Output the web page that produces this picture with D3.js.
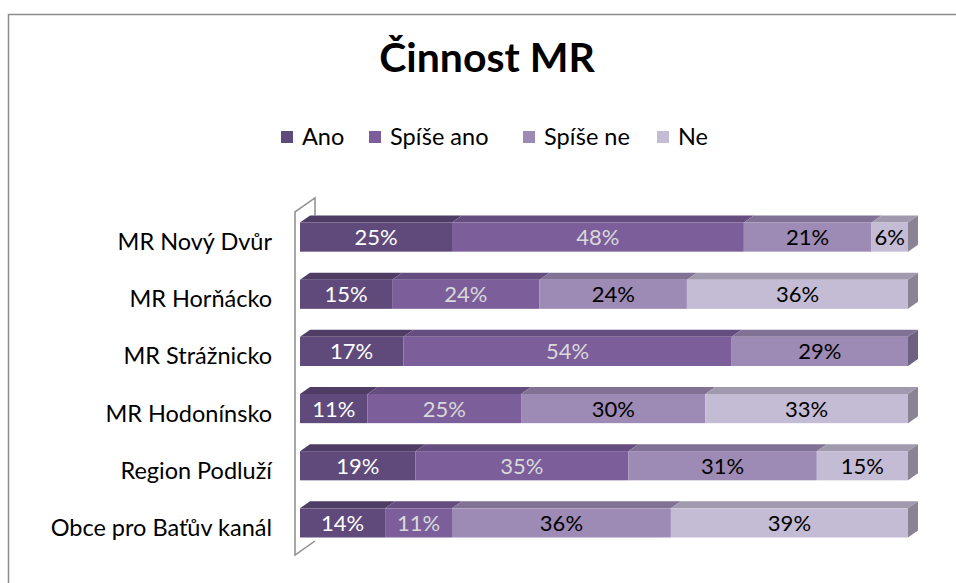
<!DOCTYPE html>
<html>
<head>
<meta charset="utf-8">
<script src="https://cdn.jsdelivr.net/npm/d3@7"></script>
<style>
  body { margin: 0; background: #fff; }
  svg { display: block; }
  text { font-family: Lato, "Open Sans", sans-serif; }
</style>
</head>
<body>
<svg id="chart" width="956" height="583"></svg>
<script>
// data
var categories = ["MR Nový Dvůr", "MR Horňácko", "MR Strážnicko", "MR Hodonínsko", "Region Podluží", "Obce pro Baťův kanál"];
var seriesNames = ["Ano", "Spíše ano", "Spíše ne", "Ne"];
var ano = [25, 15, 17, 11, 19, 14];
var spiseAno = [48, 24, 54, 25, 35, 11];
var spiseNe = [21, 24, 29, 30, 31, 36];
var ne = [6, 36, 0, 33, 15, 39];
var seriesColors = ["#604a7b", "#7b5e9a", "#9d8ab5", "#c4bbd4"];
var labelColors = ["#ffffff", "#d9d9d9", "#000000", "#000000"];
var legendX = [281, 369, 523, 657];

var rows = categories.map(function (c, i) {
    return { cat: c, "Ano": ano[i], "Spíše ano": spiseAno[i], "Spíše ne": spiseNe[i], "Ne": ne[i] };
});

var stacked = d3.stack().keys(seriesNames).offset(d3.stackOffsetExpand)(rows);

const svg = d3.select('#chart');

// frame
svg.append('rect')
    .attr('x', 8.5).attr('y', 14.5)
    .attr('width', 1000).attr('height', 1000)
    .attr('fill', 'none')
    .attr('stroke', '#8c8c8c')
    .attr('stroke-width', 1.5);

// title
svg.append('text')
    .attr('x', 487).attr('y', 72)
    .attr('text-anchor', 'middle')
    .style('font-size', '41px')
    .style('font-weight', 'bold')
    .text('Činnost MR');

// legend
var legend = svg.append('g');
seriesNames.forEach(function (name, i) {
    legend.append('rect')
        .attr('x', legendX[i]).attr('y', 131)
        .attr('width', 12).attr('height', 12)
        .attr('fill', seriesColors[i]);
    legend.append('text')
        .attr('x', legendX[i] + 21).attr('y', 145)
        .style('font-size', '23.5px')
        .text(name);
});

// scales (front plane of the 3D box)
var x = d3.scaleLinear().domain([0, 1]).range([295, 903]);
var y = d3.scaleBand().domain(categories).range([212, 555]).paddingInner(0.49).paddingOuter(0.245);

// depth of the box and of the bars inside it
var depthX = 20, depthY = -14;
var fx = depthX * 0.25, fy = depthY * 0.25;   // bar front face offset
var bx = depthX * 0.75, by = depthY * 0.75;   // bar back face offset

// left wall outline
var firstTop = y(categories[0]) + by;
svg.append('path')
    .attr('d', 'M' + (x(0) + depthX) + ',' + firstTop +
        'L' + (x(0) + depthX) + ',' + (212 + depthY) +
        'L' + x(0) + ',212' +
        'L' + x(0) + ',555' +
        'L' + (x(0) + depthX) + ',' + (555 + depthY))
    .attr('fill', 'none')
    .attr('stroke', '#8c8c8c')
    .attr('stroke-width', 1.5);

var g = svg.append('g');

rows.forEach(function (row, r) {
    var y0 = y(row.cat) + fy;
    var h = y.bandwidth();
    var dx = bx - fx, dy = by - fy;
    var lastIdx = -1;
    stacked.forEach(function (s, k) {
        if (s[r][1] - s[r][0] > 0) lastIdx = k;
    });
    stacked.forEach(function (s, k) {
        var a = x(s[r][0]) + fx, b = x(s[r][1]) + fx;
        if (b - a <= 0) return;
        var col = d3.color(seriesColors[k]);
        // top face
        g.append('path')
            .attr('d', 'M' + a + ',' + y0 + 'L' + (a + dx) + ',' + (y0 + dy) +
                'L' + (b + dx) + ',' + (y0 + dy) + 'L' + b + ',' + y0 + 'Z')
            .attr('fill', col.darker(0.55));
        // front face
        g.append('rect')
            .attr('x', a).attr('y', y0)
            .attr('width', b - a).attr('height', h)
            .attr('fill', seriesColors[k]);
        // right side face on the last segment
        if (k === lastIdx) {
            g.append('path')
                .attr('d', 'M' + b + ',' + y0 + 'L' + (b + dx) + ',' + (y0 + dy) +
                    'L' + (b + dx) + ',' + (y0 + dy + h) + 'L' + b + ',' + (y0 + h) + 'Z')
                .attr('fill', col.darker(1.0));
        }
    });
});

// data labels
stacked.forEach(function (s, k) {
    g.selectAll('.lbl' + k)
        .data(s.filter(function (d) { return d.data[seriesNames[k]] > 0; }))
        .enter()
        .append('text')
        .attr('class', 'lbl' + k)
        .attr('x', function (d) { return (x(d[0]) + x(d[1])) / 2 + fx; })
        .attr('y', function (d) { return y(d.data.cat) + fy + y.bandwidth() / 2 + 8; })
        .attr('text-anchor', 'middle')
        .attr('fill', labelColors[k])
        .style('font-size', '22px')
        .text(function (d) { return d.data[seriesNames[k]] + '%'; });
});

// category labels
svg.selectAll('.cat')
    .data(categories)
    .enter()
    .append('text')
    .attr('class', 'cat')
    .attr('x', 272)
    .attr('y', function (d) { return y(d) + y.bandwidth() / 2 + 9.5; })
    .attr('text-anchor', 'end')
    .style('font-size', '23.5px')
    .text(function (d) { return d; });
</script>
</body>
</html>
